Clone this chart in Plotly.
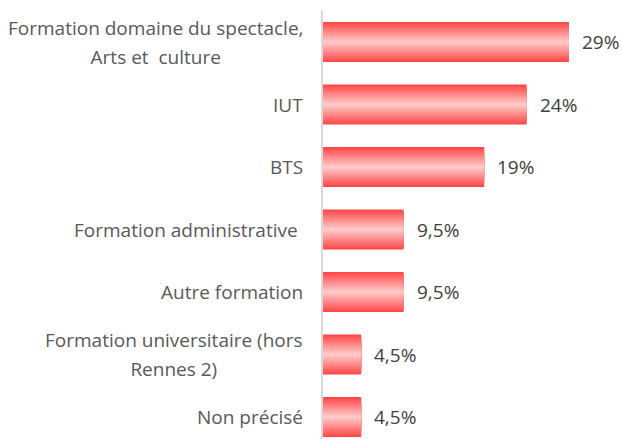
import plotly.graph_objects as go

categories = [
    "Formation domaine du spectacle,<br>Arts et\u00a0 culture",
    "IUT",
    "BTS",
    "Formation administrative\u00a0",
    "Autre formation",
    "Formation universitaire (hors<br>Rennes 2)",
    "Non précisé",
]
values = [29, 24, 19, 9.5, 9.5, 4.5, 4.5]
value_labels = ["29%", "24%", "19%", "9,5%", "9,5%", "4,5%", "4,5%"]

edge = (255, 68, 68)
center = (255, 204, 204)
N = 14
W = 0.64

fig = go.Figure()
for i in range(N):
    f = 1 - (i + 0.5) / N
    col = tuple(round(center[k] + (edge[k] - center[k]) * f) for k in range(3))
    fig.add_trace(go.Bar(
        y=categories, x=values, orientation="h",
        width=W * (1 - i / N),
        marker=dict(color="rgb(%d,%d,%d)" % col, line=dict(width=0)),
        hoverinfo="skip", showlegend=False,
    ))

FONT = "Open Sans"
annotations = []
for c, v, lab in zip(categories, values, value_labels):
    annotations.append(dict(
        x=v, y=c, xref="x", yref="y", text=lab, showarrow=False,
        xanchor="left", xshift=11, font=dict(family=FONT, size=19, color="#404040"),
    ))
    styled = "<br>".join("<span style='font-size:19px'>%s</span>" % part for part in c.split("<br>"))
    annotations.append(dict(
        x=0, y=c, xref="paper", yref="y", text=styled, showarrow=False,
        xanchor="right", xshift=-18, align="center",
        font=dict(family=FONT, size=22, color="#595959"),
    ))

fig.update_layout(
    width=622, height=439,
    margin=dict(l=323, r=0, t=10, b=0),
    paper_bgcolor="white", plot_bgcolor="white",
    barmode="overlay",
    hovermode=False,
    annotations=annotations,
    xaxis=dict(range=[0, 35.26], visible=False, fixedrange=True),
    yaxis=dict(
        categoryorder="array", categoryarray=categories,
        range=[6.352, -0.512], autorange=False, fixedrange=True,
        showticklabels=False, ticks="", showgrid=False, zeroline=False,
        showline=True, linecolor="#D9D9D9", linewidth=2,
    ),
)

fig.write_html(
    "out.html",
    config={"displayModeBar": False, "staticPlot": True},
    post_script="document.body.style.margin='0';document.body.style.overflow='hidden';",
)
